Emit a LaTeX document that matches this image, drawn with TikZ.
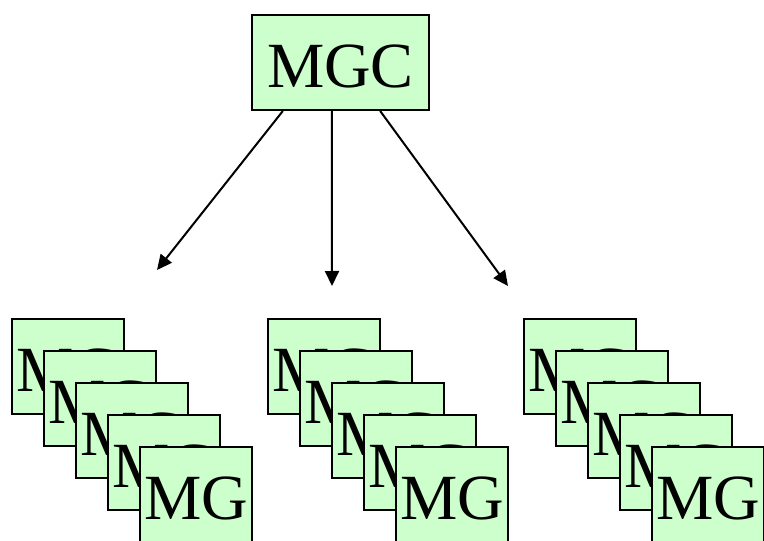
\documentclass[tikz,border=0pt]{standalone}
\usepackage{fontspec}
\setmainfont{Liberation Serif}
\usepackage{xcolor}
\usepackage{tikz}
\usetikzlibrary{arrows.meta}
\definecolor{hopxanh}{HTML}{CCFFCC}

\begin{document}
\begin{tikzpicture}[x=0.03cm,y=-0.03cm,
	>={Triangle[length=0.45cm,width=0.42cm]},
	hop/.style={draw,fill=hopxanh,line width=0.06cm,inner sep=0pt,
		minimum height=2.85cm,text height=42pt,text depth=0pt,
		font=\fontsize{55}{62}\selectfont},
	muiten/.style={->,line width=0.06cm}]
			\useasboundingbox (0,0) rectangle (764,541);
			% Hộp MGC
			\node [hop,minimum width=5.31cm] (mgc) at (340.5,62.5) {MGC};
			% Điểm cuối mũi tên
			\coordinate (dichT) at (157,270);
			\coordinate (dichG) at (332,286);
			\coordinate (dichP) at (508,286);
			% Vẽ mũi tên
			\draw [muiten] ([xshift=-1.73cm]mgc.south) -- (dichT);
			\draw [muiten] ([xshift=-0.26cm]mgc.south) -- (dichG);
			\draw [muiten] ([xshift=1.19cm]mgc.south) -- (dichP);
			% Ba chồng hộp MG
			\foreach \s in {0,1,2}
			\foreach \k in {0,...,4}
			\node [hop,minimum width=3.36cm] (mg-\s-\k) at (68+256*\s+32*\k, 366.5+32*\k) {MG};
		\end{tikzpicture}
\end{document}
